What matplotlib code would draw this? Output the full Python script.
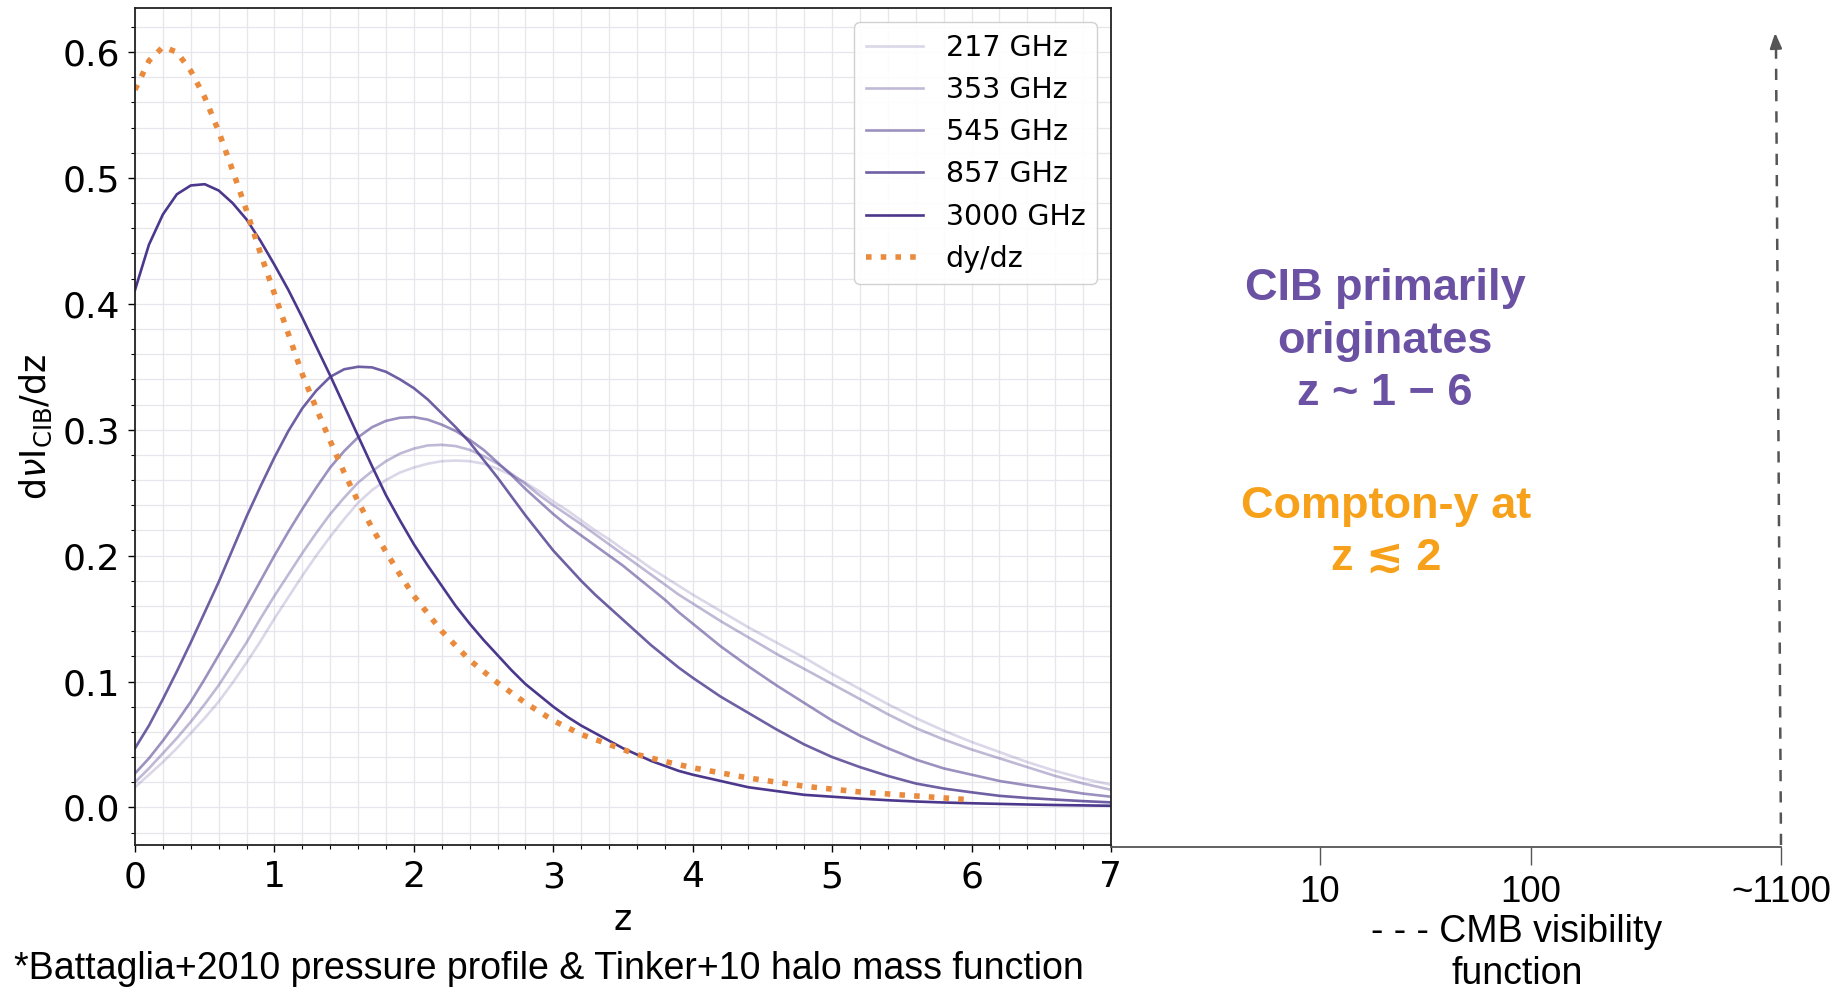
import matplotlib
matplotlib.use('Agg')
import matplotlib.pyplot as plt
from matplotlib.ticker import MultipleLocator

# redshift samples
z_grid = [0.0, 0.1, 0.2, 0.3, 0.4, 0.5, 0.6, 0.7, 0.8, 0.9,
          1.0, 1.1, 1.2, 1.3, 1.4, 1.5, 1.6, 1.7, 1.8, 1.9,
          2.0, 2.1, 2.2, 2.3, 2.4, 2.5, 2.6, 2.7, 2.8, 2.9,
          3.0, 3.1, 3.2, 3.3, 3.4, 3.5, 3.6, 3.7, 3.8, 3.9,
          4.0, 4.2, 4.4, 4.6, 4.8, 5.0, 5.2, 5.4, 5.6, 5.8,
          6.0, 6.2, 6.4, 6.6, 6.8, 7.0]

cib_217 = [0.016, 0.026, 0.036, 0.047, 0.059, 0.071, 0.084, 0.099, 0.115, 0.132,
           0.150, 0.167, 0.184, 0.200, 0.215, 0.229, 0.242, 0.252, 0.260, 0.266,
           0.270, 0.273, 0.275, 0.2755, 0.275, 0.273, 0.269, 0.264, 0.258, 0.251,
           0.243, 0.236, 0.228, 0.220, 0.213, 0.205, 0.198, 0.190, 0.183, 0.176,
           0.169, 0.156, 0.143, 0.131, 0.119, 0.106, 0.094, 0.082, 0.071, 0.061,
           0.052, 0.044, 0.036, 0.029, 0.023, 0.018]
cib_353 = [0.020, 0.031, 0.043, 0.055, 0.068, 0.082, 0.097, 0.114, 0.131, 0.150,
           0.168, 0.185, 0.202, 0.218, 0.233, 0.246, 0.258, 0.267, 0.275, 0.281,
           0.285, 0.2875, 0.288, 0.287, 0.284, 0.279, 0.273, 0.265, 0.257, 0.248,
           0.240, 0.2325, 0.225, 0.217, 0.209, 0.201, 0.193, 0.185, 0.177, 0.169,
           0.162, 0.148, 0.135, 0.122, 0.110, 0.098, 0.086, 0.074, 0.063, 0.054,
           0.046, 0.039, 0.032, 0.025, 0.019, 0.014]
cib_545 = [0.027, 0.039, 0.053, 0.068, 0.084, 0.102, 0.121, 0.140, 0.160, 0.180,
           0.200, 0.219, 0.237, 0.254, 0.270, 0.283, 0.294, 0.302, 0.307, 0.3095,
           0.310, 0.308, 0.304, 0.299, 0.292, 0.284, 0.274, 0.264, 0.253, 0.243,
           0.233, 0.224, 0.216, 0.208, 0.200, 0.192, 0.183, 0.174, 0.165, 0.155,
           0.146, 0.128, 0.112, 0.097, 0.083, 0.069, 0.057, 0.047, 0.038, 0.031,
           0.026, 0.021, 0.0175, 0.0145, 0.011, 0.0085]
cib_857 = [0.047, 0.065, 0.086, 0.108, 0.131, 0.155, 0.179, 0.205, 0.231, 0.255,
           0.278, 0.299, 0.317, 0.331, 0.342, 0.348, 0.350, 0.3495, 0.346, 0.340,
           0.333, 0.324, 0.313, 0.302, 0.290, 0.276, 0.262, 0.247, 0.232, 0.218,
           0.204, 0.192, 0.180, 0.169, 0.159, 0.149, 0.139, 0.129, 0.120, 0.111,
           0.103, 0.088, 0.075, 0.062, 0.050, 0.040, 0.032, 0.025, 0.019, 0.015,
           0.012, 0.0092, 0.0075, 0.0062, 0.005, 0.004]
cib_3000 = [0.411, 0.447, 0.471, 0.487, 0.494, 0.495, 0.490, 0.480, 0.467, 0.450,
            0.431, 0.411, 0.389, 0.366, 0.343, 0.319, 0.295, 0.271, 0.248, 0.228,
            0.209, 0.192, 0.176, 0.160, 0.146, 0.133, 0.121, 0.109, 0.098, 0.089,
            0.080, 0.072, 0.065, 0.059, 0.053, 0.047, 0.042, 0.037, 0.033, 0.029,
            0.026, 0.021, 0.016, 0.013, 0.010, 0.0085, 0.007, 0.0057, 0.0047, 0.0039,
            0.0033, 0.0028, 0.0023, 0.0019, 0.0016, 0.0013]

z_y = [0.0, 0.1, 0.2, 0.3, 0.4, 0.5, 0.6, 0.7, 0.8, 0.9, 1.0, 1.1, 1.2, 1.3, 1.4,
       1.5, 1.6, 1.7, 1.8, 1.9, 2.0, 2.2, 2.4, 2.6, 2.8, 3.0, 3.2, 3.4, 3.6, 3.8,
       4.0, 4.4, 4.8, 5.2, 5.6, 6.0]
dydz = [0.570, 0.593, 0.604, 0.600, 0.585, 0.564, 0.537, 0.506, 0.474, 0.440,
        0.408, 0.376, 0.344, 0.317, 0.291, 0.266, 0.243, 0.222, 0.203, 0.185,
        0.168, 0.140, 0.117, 0.099, 0.083, 0.069, 0.058, 0.050, 0.042, 0.0365,
        0.0315, 0.0234, 0.0168, 0.0123, 0.0091, 0.006]

freq_labels = ['217 GHz', '353 GHz', '545 GHz', '857 GHz', '3000 GHz']
freq_alpha = [0.2, 0.35, 0.55, 0.8, 1.0]
high_z_ticks = ['10', '100', '~1100']

base = '#4b378c'

fig = plt.figure(figsize=(18.47, 9.92), dpi=100)
ax = fig.add_axes([0.0731, 0.148, 0.5284, 0.844])

for vals, lab, a in zip([cib_217, cib_353, cib_545, cib_857, cib_3000],
                        freq_labels, freq_alpha):
    ax.plot(z_grid, vals, color=base, alpha=a, lw=1.9, label=lab)
ax.plot(z_y, dydz, color='#ea8a3c', lw=4, ls=':', label='dy/dz')

ax.set_xlim(0, 7)
ax.set_ylim(-0.03, 0.635)
ax.xaxis.set_minor_locator(MultipleLocator(0.2))
ax.yaxis.set_minor_locator(MultipleLocator(0.02))
ax.grid(which='both', color='#e6e6ec', lw=0.9)
ax.set_axisbelow(True)
ax.tick_params(which='major', labelsize=26, length=5, width=1, pad=6)
ax.tick_params(which='minor', length=3, width=0.8)
for s in ax.spines.values():
    s.set_color('#222222')
    s.set_linewidth(1.3)

ax.set_xlabel('z', fontsize=25, labelpad=6)
ax.set_ylabel(r'd$\nu$I$_{\rm CIB}$/dz', fontsize=25, labelpad=6)
ax.legend(loc='upper right', fontsize=20.5, edgecolor='#cccccc', framealpha=0.9)

# schematic high-redshift axis continuing to the right
ax2 = fig.add_axes([1111 / 1847, 0.1462, (1781 - 1111) / 1847, 0.001])
ax2.set_xlim(0, 1)
ax2.set_ylim(0, 1)
for k in ['top', 'left', 'right']:
    ax2.spines[k].set_visible(False)
ax2.spines['bottom'].set_color('#555555')
ax2.spines['bottom'].set_linewidth(1.3)
ax2.set_yticks([])
ax2.set_xticks([0.312, 0.627, 1.0])
ax2.set_xticklabels(high_z_ticks, family='Liberation Sans', fontsize=26.5)
ax2.tick_params(axis='x', length=13, width=1, color='#555555', pad=7)
ax2.patch.set_alpha(0)

# overlay for annotations in pixel coordinates
ov = fig.add_axes([0, 0, 1, 1])
ov.set_xlim(0, 1847)
ov.set_ylim(992, 0)
ov.axis('off')
ov.patch.set_alpha(0)

ov.plot([1781, 1776], [845, 48], color='#555555', lw=1.8, ls=(0, (4.5, 4)))
ov.annotate('', xy=(1775, 30), xytext=(1776, 50),
            arrowprops=dict(arrowstyle='-|>,head_length=0.9,head_width=0.35',
                            color='#555555', lw=1.8))

ov.text(1385, 341, 'CIB primarily\noriginates\nz ~ 1 \u2212 6', color='#6a51a3',
        fontsize=32.5, fontweight='bold', ha='center', va='center',
        family=['Liberation Sans', 'DejaVu Sans'], linespacing=1.35)
ov.text(1386, 532, 'Compton-y at\nz \u2272 2', color='#f7a11a',
        fontsize=32.5, fontweight='bold', ha='center', va='center',
        family=['Liberation Sans', 'DejaVu Sans'], linespacing=1.33)
ov.text(1517, 953, '- - - CMB visibility\nfunction', color='black',
        fontsize=27, ha='center', va='center', family='Liberation Sans',
        linespacing=1.25)
ov.text(14, 969, '*Battaglia+2010 pressure profile & Tinker+10 halo mass function',
        fontsize=27, ha='left', va='center', family='Liberation Sans')

fig.savefig('out.png', dpi=100)
